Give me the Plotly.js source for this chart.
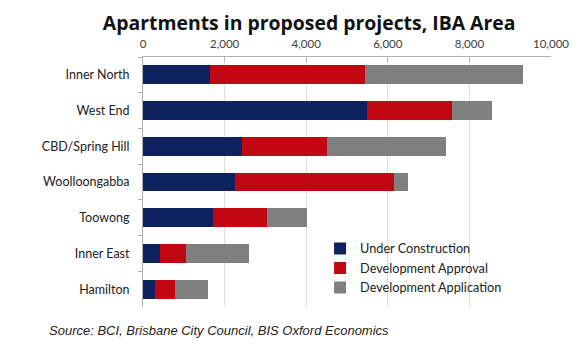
<!DOCTYPE html>
<html><head><meta charset="utf-8">
<script src="https://cdn.plot.ly/plotly-3.0.1.min.js"></script>
<style>html,body{margin:0;padding:0;background:#fff}#chart{width:580px;height:352px}</style>
</head><body><div id="chart"></div>
<script>
const categories = ["Inner North","West End","CBD/Spring Hill","Woolloongabba","Toowong","Inner East","Hamilton"];
const underConstruction = [1640, 5480, 2430, 2250, 1720, 410, 305];
const developmentApproval = [3810, 2090, 2080, 3910, 1310, 645, 480];
const developmentApplication = [3860, 990, 2910, 340, 980, 1545, 820];
const seriesNames = ["Under Construction","Development Approval","Development Application"];
const tickVals = [0,2000,4000,6000,8000,10000];
const tickText = ["0","2,000","4,000","6,000","8,000","10,000"];

const colors = ["#0f2260","#c10812","#7f7f7f"];
const vals = [underConstruction, developmentApproval, developmentApplication];
const traces = vals.map((v,i)=>({
  type:"bar", orientation:"h", x:v, y:categories, name:seriesNames[i],
  marker:{color:colors[i], line:{width:0}}, hoverinfo:"x+name"
}));

const layout = {
  width:580, height:352,
  margin:{l:143, r:29, t:57, b:45},
  barmode:"stack", bargap:0.47,
  paper_bgcolor:"#fff", plot_bgcolor:"#fff",
  font:{family:"Lato, 'Open Sans', sans-serif", color:"#333"},
  title:{text:"<b>Apartments in proposed projects, IBA Area</b>", x:0.533, xanchor:"center", y:0.935, yanchor:"middle",
         font:{size:19.4, family:"'Open Sans', Lato, sans-serif", color:"#111"}},
  xaxis:{side:"top", range:[0,10000], tickvals:tickVals, ticktext:tickText,
         showgrid:true, gridcolor:"#dcdcdc", gridwidth:1, zeroline:false,
         showline:true, linecolor:"#b0b0b0", ticks:"inside", ticklen:4, tickcolor:"#b0b0b0",
         tickfont:{size:11.5, color:"#404040"}, ticklabelstandoff:3, fixedrange:true},
  yaxis:{autorange:"reversed", categoryorder:"array", categoryarray:categories,
         showline:true, linecolor:"#b0b0b0", ticks:"outside", tickson:"boundaries", ticklen:4, tickcolor:"#b0b0b0",
         tickfont:{size:12.5, color:"#222"}, ticklabelstandoff:10, showgrid:false, fixedrange:true},
  showlegend:true,
  legend:{x:0.434, y:0.293, xanchor:"left", yanchor:"top", bgcolor:"rgba(255,255,255,0)",
          font:{size:12.7, color:"#222"}, tracegroupgap:0, traceorder:"normal", itemwidth:30},
  annotations:[{text:"<i>Source: BCI, Brisbane City Council, BIS Oxford Economics</i>", xref:"paper", yref:"paper",
    x:-0.235, y:-0.055, xanchor:"left", yanchor:"top", showarrow:false,
    font:{size:13, family:"'Liberation Sans', Arial, sans-serif", color:"#222"}}]
};
Plotly.newPlot("chart", traces, layout, {displayModeBar:false, staticPlot:true});
</script></body></html>
